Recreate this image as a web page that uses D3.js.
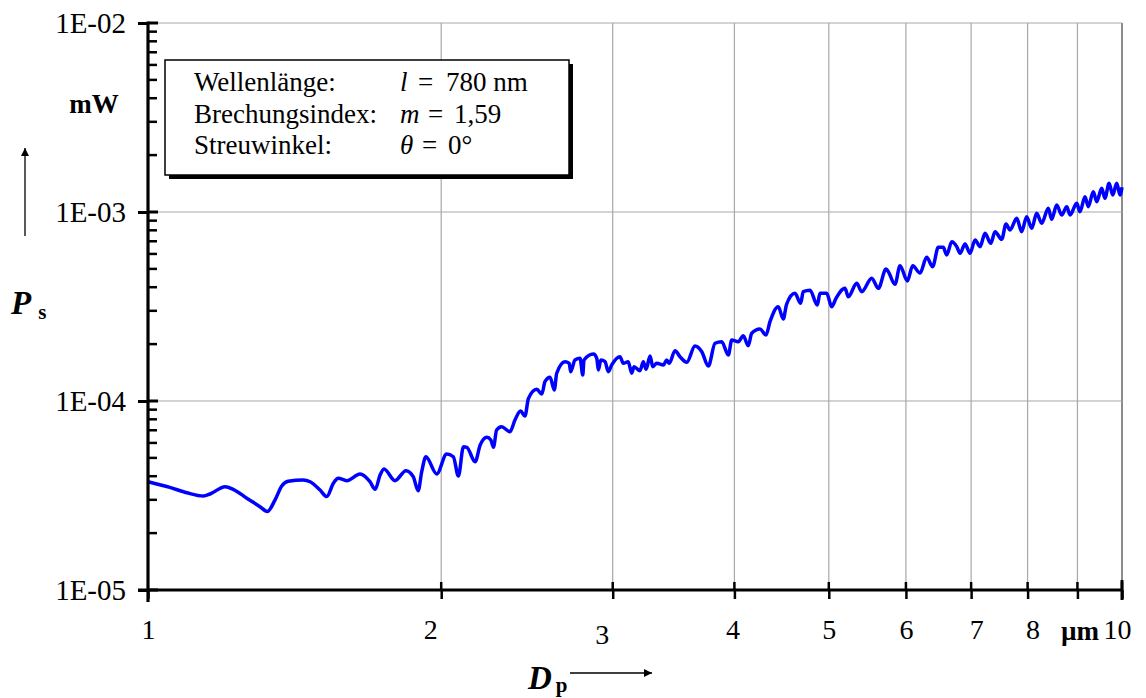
<!DOCTYPE html>
<html>
<head>
<meta charset="utf-8">
<script src="https://cdn.jsdelivr.net/npm/d3@7"></script>
<style>
  html, body { margin: 0; padding: 0; background: #fff; }
  svg { display: block; }
  text { font-family: "Liberation Serif", "Times New Roman", serif; fill: #000; }
</style>
</head>
<body>
<svg id="chart" width="1146" height="698"></svg>
<script>
// ---- data ----
const diameters = [
  1.000,1.053,1.096,1.140,1.158,1.200,1.223,1.263,1.303,1.326,
  1.350,1.372,1.393,1.443,1.467,1.502,1.526,1.550,1.568,1.600,
  1.651,1.690,1.711,1.731,1.747,1.793,1.840,1.872,1.894,1.910,
  1.929,1.979,2.026,2.058,2.083,2.108,2.125,2.167,2.193,2.228,
  2.249,2.263,2.280,2.307,2.353,2.381,2.413,2.438,2.458,2.507,
  2.537,2.556,2.587,2.613,2.628,2.680,2.707,2.716,2.744,2.777,
  2.795,2.803,2.866,2.889,2.900,2.917,2.946,2.969,2.993,3.052,
  3.076,3.112,3.138,3.155,3.200,3.225,3.246,3.277,3.298,3.329,
  3.382,3.408,3.429,3.476,3.517,3.574,3.644,3.703,3.761,3.821,
  3.882,3.943,3.975,4.037,4.085,4.133,4.167,4.249,4.310,4.351,
  4.437,4.490,4.525,4.616,4.678,4.707,4.783,4.866,4.897,4.975,
  5.034,5.086,5.195,5.236,5.341,5.404,5.534,5.621,5.725,5.756,
  5.847,5.917,6.020,6.097,6.203,6.302,6.391,6.477,6.554,6.607,
  6.687,6.766,6.819,6.900,6.982,7.066,7.149,7.234,7.333,7.407,
  7.525,7.602,7.674,7.797,7.889,7.982,8.078,8.173,8.271,8.401,
  8.469,8.570,8.672,8.775,8.845,8.984,9.055,9.162,9.234,9.344,
  9.419,9.532,9.605,9.699,9.784,9.876,9.954,10.00
];
const powers = [ // mW
  3.74e-5,3.49e-5,3.27e-5,3.14e-5,3.22e-5,3.52e-5,3.41e-5,3.06e-5,2.76e-5,2.60e-5,
  2.99e-5,3.55e-5,3.76e-5,3.82e-5,3.74e-5,3.38e-5,3.12e-5,3.67e-5,3.90e-5,3.79e-5,
  4.11e-5,3.74e-5,3.41e-5,4.06e-5,4.37e-5,3.79e-5,4.28e-5,3.98e-5,3.35e-5,4.23e-5,
  5.07e-5,4.11e-5,5.24e-5,5.07e-5,4.01e-5,5.73e-5,5.69e-5,4.77e-5,5.85e-5,6.43e-5,
  6.22e-5,5.69e-5,7.02e-5,7.31e-5,6.88e-5,7.94e-5,8.85e-5,8.33e-5,1.030e-4,1.153e-4,
  1.089e-4,1.265e-4,1.335e-4,1.144e-4,1.402e-4,1.614e-4,1.583e-4,1.429e-4,1.648e-4,1.682e-4,
  1.373e-4,1.648e-4,1.773e-4,1.682e-4,1.459e-4,1.648e-4,1.614e-4,1.429e-4,1.551e-4,1.716e-4,
  1.583e-4,1.614e-4,1.402e-4,1.519e-4,1.447e-4,1.614e-4,1.471e-4,1.730e-4,1.519e-4,1.583e-4,
  1.551e-4,1.648e-4,1.583e-4,1.846e-4,1.716e-4,1.603e-4,1.954e-4,1.823e-4,1.532e-4,2.020e-4,
  2.060e-4,1.752e-4,2.102e-4,2.060e-4,2.215e-4,1.961e-4,2.281e-4,2.404e-4,2.235e-4,2.628e-4,
  3.155e-4,2.716e-4,3.249e-4,3.714e-4,3.289e-4,3.788e-4,3.853e-4,3.221e-4,3.714e-4,3.714e-4,
  3.155e-4,3.494e-4,3.947e-4,3.563e-4,4.196e-4,3.788e-4,4.460e-4,3.947e-4,4.994e-4,4.832e-4,
  4.145e-4,5.199e-4,4.315e-4,5.199e-4,4.756e-4,5.759e-4,5.135e-4,6.506e-4,6.506e-4,5.923e-4,
  6.964e-4,6.554e-4,6.046e-4,6.773e-4,6.046e-4,7.110e-4,6.554e-4,7.716e-4,6.830e-4,7.868e-4,
  7.170e-4,8.640e-4,8.033e-4,9.260e-4,7.868e-4,9.440e-4,8.201e-4,9.840e-4,8.714e-4,1.046e-3,
  9.150e-4,1.089e-3,9.640e-4,1.067e-3,9.640e-4,1.112e-3,1.004e-3,1.205e-3,1.067e-3,1.280e-3,
  1.134e-3,1.335e-3,1.182e-3,1.419e-3,1.230e-3,1.419e-3,1.230e-3,1.351e-3
];
const xTickValues = [1, 2, 3, 4, 5, 6, 7, 8, 9, 10];
const xTickLabels = ["1", "2", "3", "4", "5", "6", "7", "8", "", "10"];
const yTickValues = [1e-5, 1e-4, 1e-3, 1e-2];
const yTickLabels = ["1E-05", "1E-04", "1E-03", "1E-02"];
const legendNames = ["Wellenlänge:", "Brechungsindex:", "Streuwinkel:"];
const legendSymbols = ["l", "m", "θ"];
const legendValues = ["780 nm", "1,59", "0°"];

// ---- layout ----
const svg = d3.select("#chart");
const L = 148, R = 1122, T = 23, B = 590;
const x = d3.scaleLog().domain([1, 10]).range([L, R]);
const y = d3.scaleLog().domain([1e-5, 1e-2]).range([B, T]);

// label nudges (as placed in the original drawing)
const xLabelDx = [0, -11, -11, -2, 0, 0, 5, 5, 0, -5];
const xLabelDy = [0, 0, 5, 0, 0, 0, 0, 0, 0, 0];

// minor y values
const yMinor = [];
[1e-5, 1e-4, 1e-3].forEach(d => { for (let k = 2; k <= 9; k++) yMinor.push(d * k); });

// grid
const grid = svg.append("g");
grid.selectAll("line.vg").data(xTickValues.slice(1)).join("line")
  .attr("x1", d => x(d)).attr("x2", d => x(d))
  .attr("y1", T).attr("y2", B)
  .attr("stroke", d => d === 10 ? "#8c8c8c" : "#a8a8a8")
  .attr("stroke-width", d => d === 10 ? 2 : 1.2);
grid.selectAll("line.hg").data(yTickValues.slice(1)).join("line")
  .attr("x1", L).attr("x2", R)
  .attr("y1", d => y(d)).attr("y2", d => y(d))
  .attr("stroke", "#a8a8a8").attr("stroke-width", 1.2);

// curve
const pts = diameters.map((d, i) => [d, powers[i]]);
const line = d3.line().x(d => x(d[0])).y(d => y(d[1])).curve(d3.curveMonotoneX);
svg.append("path").datum(pts)
  .attr("d", line)
  .attr("fill", "none").attr("stroke", "#0000ff")
  .attr("stroke-width", 3.5).attr("stroke-linejoin", "round");

// y axis
const yAxis = d3.axisLeft(y).tickValues(yTickValues)
  .tickFormat((d, i) => yTickLabels[i]).tickSize(10).tickPadding(12);
const gy = svg.append("g").attr("transform", `translate(${L},0)`).call(yAxis);
gy.select(".domain").remove();
gy.selectAll(".tick line").attr("stroke", "#000").attr("stroke-width", 3);
gy.selectAll(".tick text").attr("font-size", 29).attr("font-family", "Liberation Serif");
svg.append("g").selectAll("line").data(yTickValues).join("line")
  .attr("x1", L).attr("x2", L + 10)
  .attr("y1", d => y(d)).attr("y2", d => y(d))
  .attr("stroke", "#000").attr("stroke-width", 3);
svg.append("g").selectAll("line").data(yMinor).join("line")
  .attr("x1", L).attr("x2", L + 9)
  .attr("y1", d => y(d)).attr("y2", d => y(d))
  .attr("stroke", "#000").attr("stroke-width", 2.5);
svg.append("line").attr("x1", L).attr("x2", L).attr("y1", T - 1.5).attr("y2", B + 12)
  .attr("stroke", "#000").attr("stroke-width", 3.2);

// x axis
const xAxis = d3.axisBottom(x).tickValues(xTickValues)
  .tickFormat((d, i) => xTickLabels[i]).tickSize(9).tickPadding(20);
const gx = svg.append("g").attr("transform", `translate(0,${B})`).call(xAxis);
gx.select(".domain").remove();
gx.selectAll(".tick line").attr("stroke", "#000").attr("stroke-width", 2.5);
gx.selectAll(".tick text").attr("font-size", 28).attr("font-family", "Liberation Serif")
  .attr("dx", (d, i) => xLabelDx[i]).attr("dy", (d, i) => (0.71 * 28 + xLabelDy[i]) + "px");
svg.append("g").selectAll("line").data(xTickValues.slice(1)).join("line")
  .attr("x1", d => x(d)).attr("x2", d => x(d))
  .attr("y1", B - 8).attr("y2", B)
  .attr("stroke", "#000").attr("stroke-width", 2.5);
svg.append("line").attr("x1", L - 10).attr("x2", R + 1).attr("y1", B).attr("y2", B)
  .attr("stroke", "#000").attr("stroke-width", 3.2);
svg.append("line").attr("x1", x(10)).attr("x2", x(10)).attr("y1", B - 10).attr("y2", B + 10)
  .attr("stroke", "#000").attr("stroke-width", 3);

// unit µm
svg.append("text").attr("x", 1080).attr("y", 640).attr("text-anchor", "middle")
  .attr("font-size", 27).attr("font-weight", "bold").text("µm");

// legend box
const lg = svg.append("g");
lg.append("rect").attr("x", 169).attr("y", 64).attr("width", 404).attr("height", 115).attr("fill", "#000");
lg.append("rect").attr("x", 165).attr("y", 60).attr("width", 404).attr("height", 115)
  .attr("fill", "#fff").attr("stroke", "#000").attr("stroke-width", 1.5);
const eqX = [418, 428, 422];
const valX = [446, 454, 448];
legendNames.forEach((name, i) => {
  const by = 91 + i * 31.5;
  lg.append("text").attr("x", 194).attr("y", by).attr("font-size", 27).text(name);
  lg.append("text").attr("x", 400).attr("y", by).attr("font-size", 27)
    .attr("font-style", "italic").text(legendSymbols[i]);
  lg.append("text").attr("x", eqX[i]).attr("y", by).attr("font-size", 27).text("=");
  lg.append("text").attr("x", valX[i]).attr("y", by).attr("font-size", 27).text(legendValues[i]);
});

// y axis title
svg.append("text").attr("x", 94).attr("y", 113).attr("text-anchor", "middle")
  .attr("font-size", 27).attr("font-weight", "bold").text("mW");
const defs = svg.append("defs");
defs.append("marker").attr("id", "ahv").attr("viewBox", "0 0 10 10")
  .attr("refX", 10).attr("refY", 5).attr("markerWidth", 16).attr("markerHeight", 8)
  .attr("markerUnits", "userSpaceOnUse").attr("orient", "auto")
  .append("path").attr("d", "M0,0 L10,5 L0,10 z").attr("fill", "#000");
svg.append("line").attr("x1", 25).attr("x2", 25).attr("y1", 236).attr("y2", 148)
  .attr("stroke", "#000").attr("stroke-width", 1.3).attr("marker-end", "url(#ahv)");
const pt = svg.append("text").attr("x", 11).attr("y", 314).attr("font-weight", "bold");
pt.append("tspan").attr("font-size", 33).attr("font-style", "italic").text("P");
pt.append("tspan").attr("font-size", 21).attr("dx", 7).attr("dy", 5).text("s");

// x axis title
const xt = svg.append("text").attr("x", 528).attr("y", 689).attr("font-weight", "bold");
xt.append("tspan").attr("font-size", 33).attr("font-style", "italic").text("D");
xt.append("tspan").attr("font-size", 21).attr("dx", 4).attr("dy", 3).text("p");
svg.append("line").attr("x1", 570).attr("x2", 652).attr("y1", 673).attr("y2", 673)
  .attr("stroke", "#000").attr("stroke-width", 1.3).attr("marker-end", "url(#ahv)");
</script>
</body>
</html>
